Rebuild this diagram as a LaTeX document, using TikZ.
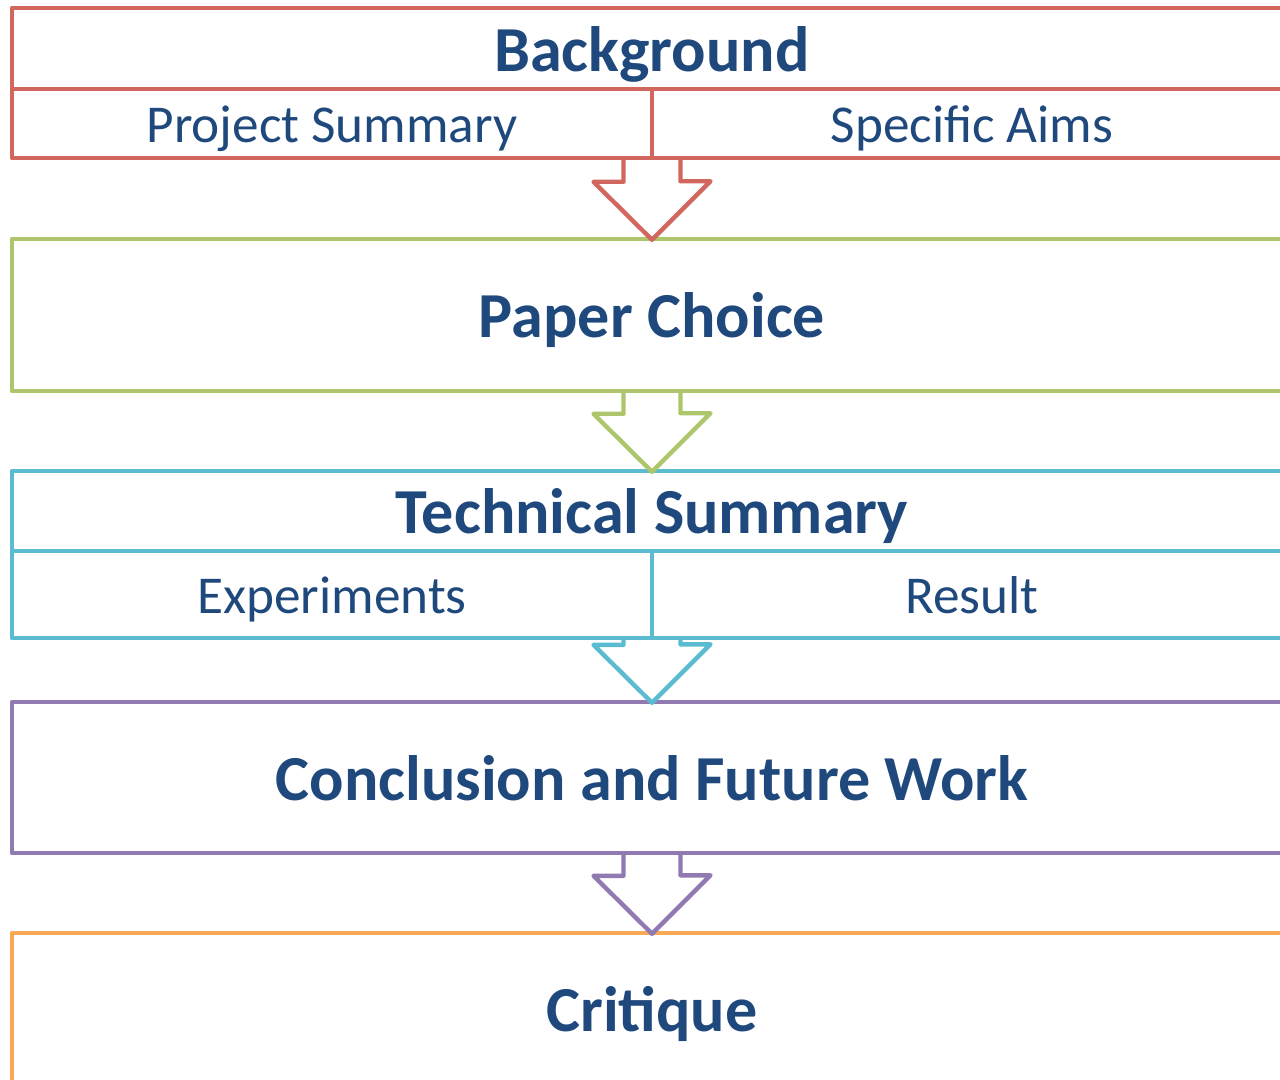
\documentclass[tikz,border=0pt]{standalone}
\usepackage{fontspec}
\setmainfont{Carlito}
\usetikzlibrary{calc}

\definecolor{navy}{HTML}{1F497D}
\definecolor{bgred}{HTML}{D1675F}
\definecolor{papergreen}{HTML}{ADC66B}
\definecolor{techcyan}{HTML}{5BBBD1}
\definecolor{conclpurple}{HTML}{917AB2}
\definecolor{critorange}{HTML}{F9A856}

\begin{document}
\begin{tikzpicture}[
    line join=round,
    head/.style={rectangle, draw=#1, line width=2.5pt, text=navy, font=\bfseries\fontsize{36.5}{44}\selectfont, minimum width=25.6cm, inner sep=0pt, text height=26pt, text depth=0pt},
    part/.style={rectangle, draw=#1, line width=2.5pt, text=navy, font=\fontsize{30.3}{36}\selectfont, minimum width=12.8cm, inner sep=0pt, text height=22pt, text depth=0pt},
    flow/.style={draw=#1, line width=2.5pt}
]
\useasboundingbox (0,0) rectangle (25.6,-21.6);
\clip (0,0) rectangle (25.6,-21.6);

% --- Nodes ---
% Background with its two parts
\node (bg) at (13.04, -0.97) [head=bgred, minimum height=1.62cm] {Background};
\node (summary) at (6.64, -2.47) [part=bgred, minimum height=1.38cm] {Project Summary};
\node (aims) at (19.44, -2.47) [part=bgred, minimum height=1.38cm] {Specific Aims};

\node (paper) at (13.04, -6.30) [head=papergreen, minimum height=3.04cm] {Paper Choice};

% Technical summary with its two parts
\node (tech) at (13.04, -10.22) [head=techcyan, minimum height=1.6cm] {Technical Summary};
\node (experiments) at (6.64, -11.89) [part=techcyan, minimum height=1.74cm] {Experiments};
\node (result) at (19.44, -11.89) [part=techcyan, minimum height=1.74cm] {Result};

\node (concl) at (13.04, -15.55) [head=conclpurple, minimum height=3.02cm] {Conclusion and Future Work};
\node (critique) at (13.04, -20.17) [head=critorange, minimum height=3.02cm] {Critique};

% --- Edges ---
% Hollow block arrows, tip just on the next box
\draw [flow=bgred] ($(paper.north |- summary.south)+(-0.57,0)$) -- ($(paper.north)+(-0.57,1.1)$) -- ++(-0.6,0) -- ($(paper.north)+(0,-0.06)$) -- ++(1.17,1.17) -- ++(-0.6,0) -- ($(paper.north |- aims.south)+(0.57,0)$);
\draw [flow=papergreen] ($(tech.north |- paper.south)+(-0.57,0)$) -- ($(tech.north)+(-0.57,1.1)$) -- ++(-0.6,0) -- ($(tech.north)+(0,-0.06)$) -- ++(1.17,1.17) -- ++(-0.6,0) -- ($(tech.north |- paper.south)+(0.57,0)$);
\draw [flow=techcyan] ($(concl.north |- experiments.south)+(-0.57,0)$) -- ($(concl.north)+(-0.57,1.1)$) -- ++(-0.6,0) -- ($(concl.north)+(0,-0.06)$) -- ++(1.17,1.17) -- ++(-0.6,0) -- ($(concl.north |- result.south)+(0.57,0)$);
\draw [flow=conclpurple] ($(critique.north |- concl.south)+(-0.57,0)$) -- ($(critique.north)+(-0.57,1.1)$) -- ++(-0.6,0) -- ($(critique.north)+(0,-0.06)$) -- ++(1.17,1.17) -- ++(-0.6,0) -- ($(critique.north |- concl.south)+(0.57,0)$);

\end{tikzpicture}
\end{document}
